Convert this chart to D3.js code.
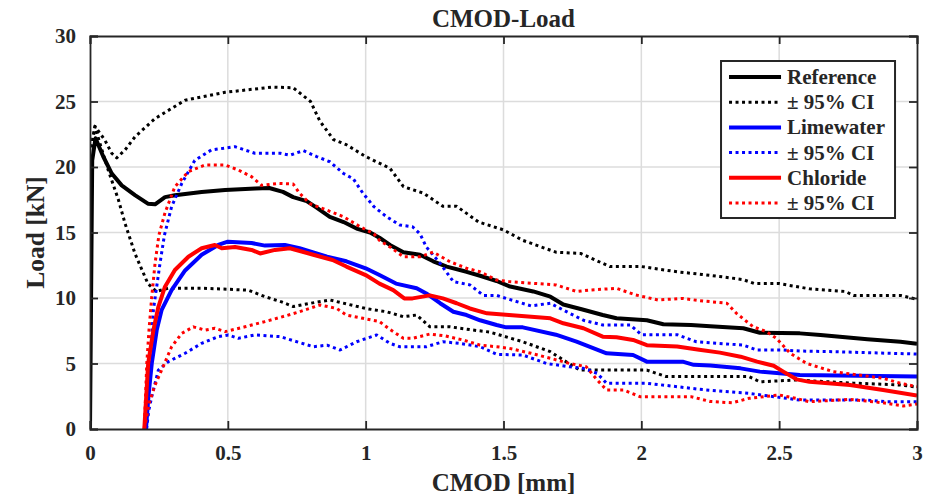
<!DOCTYPE html>
<html>
<head>
<meta charset="utf-8">
<script src="https://cdn.jsdelivr.net/npm/d3@7"></script>
<style>
  body { margin: 0; background: #fff; }
  svg text { font-family: "Liberation Serif", "Times New Roman", serif; font-weight: bold; fill: #262626; }
</style>
</head>
<body>
<div id="chart"></div>
<script>
// CMOD [mm] vs load [kN]
var refMean = [[0,0],[0.008,20.5],[0.02,22.2],[0.048,20.8],[0.079,19.5],[0.115,18.6],[0.163,17.85],[0.21,17.2],[0.236,17.15],[0.272,17.7],[0.308,17.85],[0.405,18.1],[0.49,18.25],[0.6,18.35],[0.65,18.4],[0.7,18.1],[0.737,17.7],[0.786,17.4],[0.822,16.9],[0.87,16.2],[0.92,15.8],[0.967,15.3],[1.016,15.0],[1.05,14.6],[1.088,14.05],[1.137,13.5],[1.197,13.3],[1.245,12.8],[1.294,12.4],[1.366,12.0],[1.415,11.7],[1.475,11.3],[1.52,10.9],[1.608,10.5],[1.67,10.1],[1.717,9.5],[1.79,9.1],[1.86,8.7],[1.91,8.45],[2.02,8.3],[2.08,8.0],[2.18,7.94],[2.25,7.85],[2.37,7.69],[2.43,7.35],[2.575,7.3],[2.65,7.18],[2.72,7.05],[2.82,6.85],[2.94,6.66],[3.0,6.5]];
var refUpper = [[0.005,21.5],[0.018,23.1],[0.054,22.05],[0.079,21.05],[0.097,20.7],[0.127,21.3],[0.163,22.3],[0.236,23.7],[0.345,25.1],[0.49,25.7],[0.66,26.1],[0.737,26.05],[0.8,25.0],[0.834,23.5],[0.883,22.1],[0.93,21.7],[1.0,20.8],[1.088,19.9],[1.137,18.5],[1.21,18.0],[1.28,17.0],[1.33,17.0],[1.41,15.8],[1.5,15.2],[1.57,14.4],[1.69,13.5],[1.78,13.4],[1.886,12.4],[2.0,12.4],[2.13,12.0],[2.22,11.8],[2.3,11.6],[2.37,11.4],[2.41,11.1],[2.5,11.1],[2.61,10.7],[2.74,10.5],[2.77,10.2],[2.94,10.2],[3.0,9.9]];
var refLower = [[0.005,21.5],[0.018,23.1],[0.036,21.8],[0.066,19.77],[0.103,17.5],[0.127,15.7],[0.163,13.4],[0.21,11.1],[0.24,10.5],[0.284,10.75],[0.405,10.75],[0.574,10.6],[0.635,10.1],[0.695,9.7],[0.737,9.35],[0.8,9.6],[0.87,9.85],[1.0,9.2],[1.076,8.95],[1.137,8.57],[1.185,8.7],[1.233,7.8],[1.306,7.8],[1.39,7.55],[1.45,7.4],[1.57,6.66],[1.67,5.9],[1.717,5.27],[1.777,4.5],[2.02,4.5],[2.09,4.0],[2.39,4.0],[2.43,3.6],[2.56,3.74],[2.77,3.5],[2.94,3.36],[3.0,3.2]];

var limeMean = [[0.203,0],[0.212,2.5],[0.224,5.0],[0.242,7.55],[0.26,9.1],[0.296,10.6],[0.345,12.1],[0.405,13.3],[0.465,14.05],[0.5,14.3],[0.586,14.2],[0.635,14.0],[0.707,14.05],[0.76,13.8],[0.86,13.15],[0.93,12.8],[1.0,12.27],[1.05,11.75],[1.11,11.1],[1.185,10.75],[1.22,10.35],[1.27,9.6],[1.318,8.95],[1.366,8.7],[1.415,8.3],[1.475,7.94],[1.51,7.76],[1.57,7.76],[1.69,7.2],[1.765,6.67],[1.874,5.78],[1.97,5.65],[2.02,5.14],[2.15,5.14],[2.19,4.9],[2.25,4.85],[2.36,4.63],[2.43,4.38],[2.575,4.12],[3.0,4.0]];
var limeUpper = [[0.205,0],[0.21,2.5],[0.218,5.0],[0.23,9.1],[0.254,12.65],[0.27,14.8],[0.296,16.97],[0.333,18.75],[0.38,20.5],[0.44,21.3],[0.526,21.55],[0.598,21.05],[0.69,21.05],[0.725,20.9],[0.774,21.25],[0.822,20.8],[0.87,20.4],[0.92,19.5],[0.955,19.1],[0.99,18.0],[1.03,16.97],[1.076,16.2],[1.124,15.57],[1.17,15.44],[1.197,14.9],[1.22,13.9],[1.27,12.65],[1.318,11.25],[1.378,11.0],[1.427,10.2],[1.475,10.2],[1.52,9.9],[1.6,9.4],[1.67,9.6],[1.717,9.08],[1.79,8.3],[1.86,7.94],[1.96,7.94],[2.0,7.2],[2.13,7.2],[2.2,6.66],[2.37,6.4],[2.42,6.03],[2.515,6.03],[2.575,5.95],[2.7,5.9],[3.0,5.72]];
var limeLower = [[0.205,0],[0.214,1.5],[0.224,2.47],[0.248,4.5],[0.284,5.14],[0.345,5.78],[0.405,6.54],[0.465,7.05],[0.502,7.18],[0.538,6.92],[0.598,7.18],[0.69,7.05],[0.81,6.28],[0.86,6.4],[0.907,6.03],[0.967,6.66],[1.04,7.18],[1.088,6.54],[1.124,6.28],[1.22,6.28],[1.28,6.66],[1.34,6.54],[1.415,6.28],[1.475,5.7],[1.57,5.65],[1.656,5.0],[1.74,4.75],[1.79,4.63],[1.84,4.25],[1.874,3.49],[2.02,3.49],[2.13,3.23],[2.21,3.03],[2.39,2.72],[2.48,2.47],[2.575,2.21],[2.82,2.21],[2.89,2.08],[3.0,2.08]];

var chlMean = [[0.197,0],[0.211,5.0],[0.23,7.55],[0.248,9.33],[0.272,10.86],[0.308,12.14],[0.357,13.15],[0.405,13.8],[0.453,14.05],[0.478,13.8],[0.526,13.9],[0.586,13.67],[0.617,13.4],[0.671,13.67],[0.725,13.8],[0.81,13.3],[0.88,12.9],[0.93,12.4],[1.0,11.75],[1.05,11.1],[1.1,10.6],[1.14,9.97],[1.17,9.97],[1.233,10.2],[1.28,9.97],[1.33,9.6],[1.378,9.2],[1.44,8.83],[1.52,8.7],[1.67,8.45],[1.717,8.07],[1.79,7.69],[1.86,7.05],[1.91,7.0],[1.97,6.8],[2.02,6.4],[2.13,6.3],[2.21,6.05],[2.285,5.83],[2.36,5.52],[2.42,5.14],[2.48,4.83],[2.515,4.38],[2.563,3.79],[2.61,3.6],[2.757,3.36],[2.877,2.98],[3.0,2.55]];
var chlUpper = [[0.197,0],[0.206,5.0],[0.214,7.55],[0.224,10.1],[0.236,12.65],[0.25,14.8],[0.272,16.5],[0.308,18.5],[0.357,19.65],[0.417,20.15],[0.49,20.15],[0.538,19.77],[0.586,19.26],[0.623,18.6],[0.683,18.75],[0.737,18.7],[0.76,18.0],[0.798,17.2],[0.86,16.7],[0.92,16.2],[0.98,15.44],[1.03,14.9],[1.05,14.4],[1.088,13.9],[1.137,13.15],[1.197,13.15],[1.245,13.5],[1.306,12.77],[1.366,12.27],[1.415,12.0],[1.475,11.37],[1.52,11.25],[1.69,11.0],[1.765,10.5],[1.81,10.6],[1.91,10.74],[1.98,10.23],[2.06,9.85],[2.15,9.97],[2.21,9.8],[2.31,9.6],[2.345,8.83],[2.406,7.8],[2.454,7.43],[2.49,6.92],[2.54,5.78],[2.6,5.0],[2.696,4.38],[2.877,3.87],[2.94,3.49],[3.0,3.23]];
var chlLower = [[0.197,0],[0.215,2.0],[0.235,3.3],[0.26,4.5],[0.296,6.28],[0.333,7.3],[0.375,7.8],[0.417,7.55],[0.453,7.69],[0.49,7.43],[0.562,7.8],[0.635,8.2],[0.707,8.62],[0.76,8.95],[0.834,9.47],[0.895,9.2],[0.93,8.7],[0.99,8.45],[1.05,8.2],[1.088,7.6],[1.137,6.92],[1.17,6.92],[1.233,7.25],[1.29,7.1],[1.354,6.79],[1.415,6.4],[1.475,6.28],[1.52,6.16],[1.6,5.78],[1.67,5.4],[1.74,5.0],[1.8,4.75],[1.84,3.74],[1.874,2.98],[1.935,2.98],[1.995,2.47],[2.18,2.47],[2.25,2.1],[2.33,2.0],[2.39,2.34],[2.5,2.6],[2.56,2.34],[2.61,2.08],[2.757,2.26],[2.877,2.0],[2.95,1.76],[3.0,1.9]];

var xTicks = [0, 0.5, 1, 1.5, 2, 2.5, 3];
var yTicks = [0, 5, 10, 15, 20, 25, 30];
var legendLabels = ["Reference", "\u00b1 95% CI", "Limewater", "\u00b1 95% CI", "Chloride", "\u00b1 95% CI"];

var margin = {top: 36, right: 26, bottom: 69, left: 90},
    width = 943 - margin.left - margin.right,
    height = 498 - margin.top - margin.bottom;

var x = d3.scaleLinear().domain([0, 3]).range([0, width]);
var y = d3.scaleLinear().domain([0, 30]).range([height, 0]);

var svg = d3.select("#chart").append("svg")
    .attr("width", 943)
    .attr("height", 498)
  .append("g")
    .attr("transform", "translate(" + margin.left + "," + margin.top + ")");

// grid
svg.append("g").selectAll("line").data(xTicks.slice(1, -1)).enter().append("line")
    .attr("x1", x).attr("x2", x).attr("y1", 0).attr("y2", height)
    .attr("stroke", "#dcdcdc").attr("stroke-width", 1.5);
svg.append("g").selectAll("line").data(yTicks.slice(1, -1)).enter().append("line")
    .attr("y1", y).attr("y2", y).attr("x1", 0).attr("x2", width)
    .attr("stroke", "#dcdcdc").attr("stroke-width", 1.5);

svg.append("clipPath").attr("id", "clip").append("rect")
    .attr("width", width).attr("height", height);

var line = d3.line()
    .x(function(d) { return x(d[0]); })
    .y(function(d) { return y(d[1]); });

var series = [
  {data: refMean, color: "#000000", dotted: false},
  {data: refUpper, color: "#000000", dotted: true},
  {data: refLower, color: "#000000", dotted: true},
  {data: limeMean, color: "#0000ff", dotted: false},
  {data: limeUpper, color: "#0000ff", dotted: true},
  {data: limeLower, color: "#0000ff", dotted: true},
  {data: chlMean, color: "#ff0000", dotted: false},
  {data: chlUpper, color: "#ff0000", dotted: true},
  {data: chlLower, color: "#ff0000", dotted: true}
];

var plot = svg.append("g").attr("clip-path", "url(#clip)");
series.forEach(function(s) {
  plot.append("path")
      .datum(s.data)
      .attr("fill", "none")
      .attr("stroke", s.color)
      .attr("stroke-width", s.dotted ? 3 : 4)
      .attr("stroke-dasharray", s.dotted ? "3,3.5" : null)
      .attr("stroke-linejoin", "round")
      .attr("d", line);
});

// axes, MATLAB style: ticks inside, box on
var xAxis = d3.axisBottom(x).tickValues(xTicks).tickSize(-8).tickPadding(16)
    .tickFormat(function(d) { return String(d); });
var yAxis = d3.axisLeft(y).tickValues(yTicks).tickSize(-8).tickPadding(14);

svg.append("g").attr("transform", "translate(0," + height + ")").call(xAxis);
svg.append("g").call(yAxis);
svg.append("g").call(d3.axisTop(x).tickValues(xTicks).tickSize(-8).tickFormat(""));
svg.append("g").attr("transform", "translate(" + width + ",0)")
    .call(d3.axisRight(y).tickValues(yTicks).tickSize(-8).tickFormat(""));

svg.selectAll(".domain").attr("stroke", "#262626").attr("stroke-width", 1.8);
svg.selectAll(".tick line").attr("stroke", "#262626").attr("stroke-width", 1.8);
svg.selectAll(".tick text").style("font-size", "21px")
    .style("font-family", "'Liberation Serif', serif").style("font-weight", "bold").attr("fill", "#262626");

// titles
svg.append("text")
    .attr("x", width / 2).attr("y", -9)
    .attr("text-anchor", "middle")
    .style("font-size", "25px")
    .text("CMOD-Load");
svg.append("text")
    .attr("x", width / 2).attr("y", height + 62)
    .attr("text-anchor", "middle")
    .style("font-size", "25px")
    .text("CMOD [mm]");
svg.append("text")
    .attr("transform", "rotate(-90)")
    .attr("x", -height / 2).attr("y", -46)
    .attr("text-anchor", "middle")
    .style("font-size", "25.5px")
    .text("Load [kN]");

// legend
var lg = svg.append("g").attr("transform", "translate(" + (x(2.3) - 3) + ",25)");
lg.append("rect")
    .attr("width", 174).attr("height", 157)
    .attr("fill", "#fff").attr("stroke", "#262626").attr("stroke-width", 2);
var rows = lg.selectAll(".row").data(legendLabels).enter().append("g")
    .attr("transform", function(d, i) { return "translate(0," + (16 + i * 25.2) + ")"; });
rows.append("line")
    .attr("x1", 8).attr("x2", 60)
    .attr("stroke", function(d, i) { return series[Math.floor(i / 2) * 3].color; })
    .attr("stroke-width", function(d, i) { return i % 2 ? 3 : 4; })
    .attr("stroke-dasharray", function(d, i) { return i % 2 ? "3,3.5" : null; });
rows.append("text")
    .attr("x", 66).attr("y", 7)
    .style("font-size", "21px")
    .text(function(d) { return d; });
</script>
</body>
</html>
